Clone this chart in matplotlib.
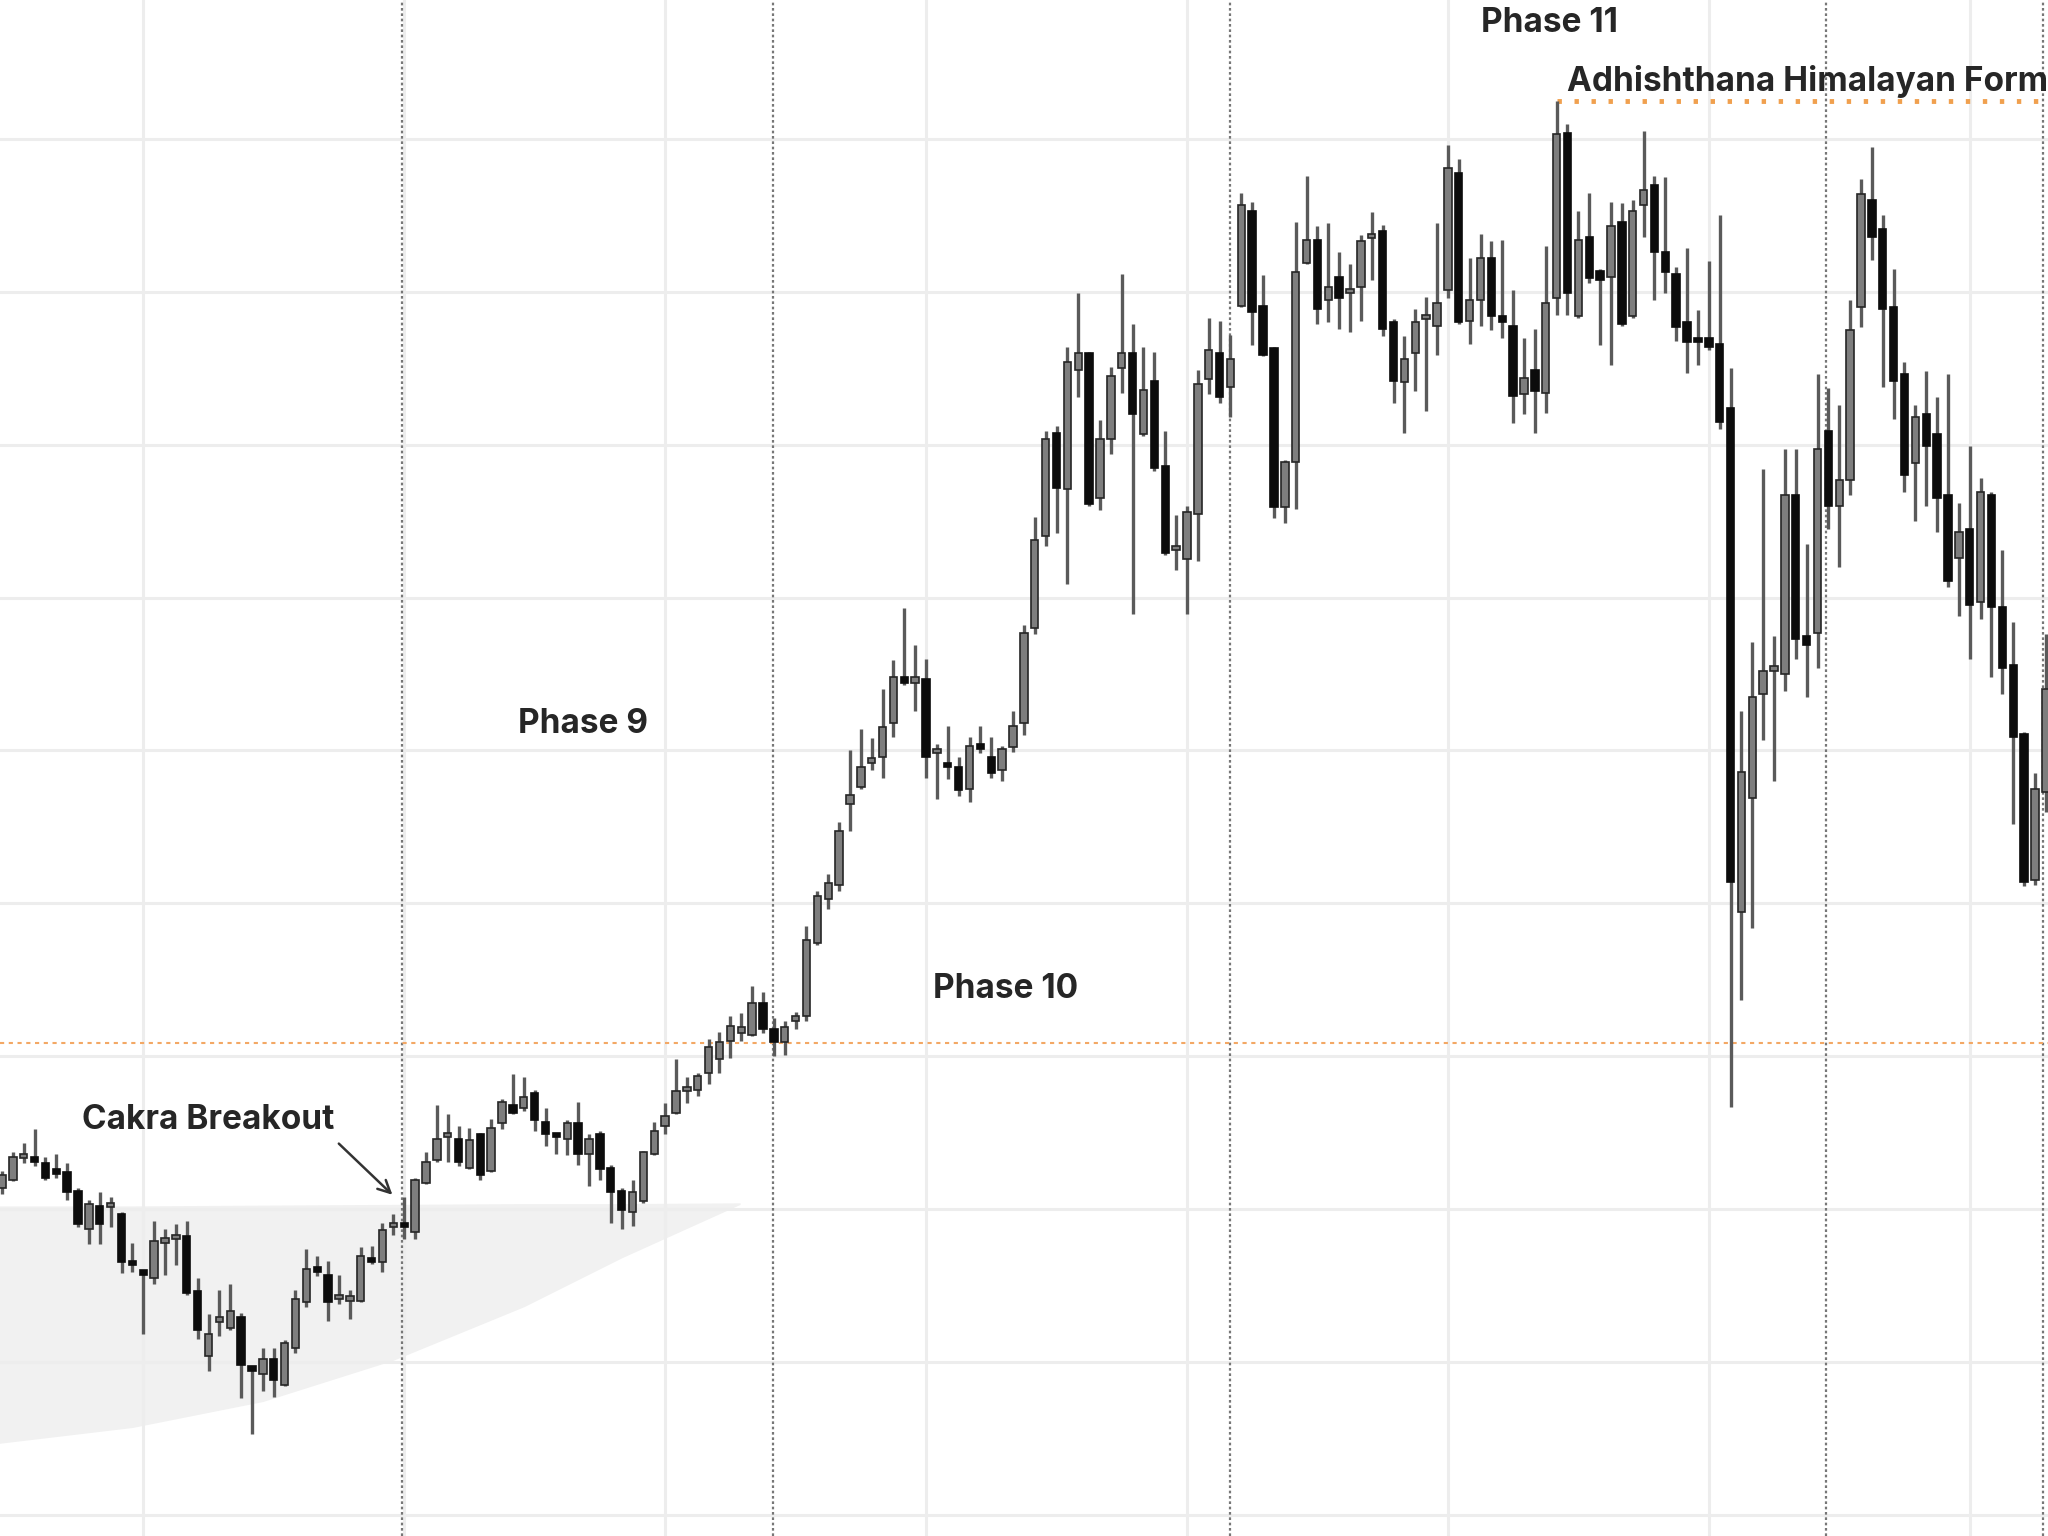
import numpy as np
import matplotlib
matplotlib.use("Agg")
import matplotlib.pyplot as plt

# OHLC per bar (price units; chart has no visible axis labels)
opens = [121.4, 121.9, 123.3, 123.2, 123.0, 122.5, 122.4, 121.2, 118.7, 120.2,
         120.1, 119.7, 116.6, 115.8, 115.5, 117.8, 118.0, 118.2, 114.6, 110.4,
         112.6, 112.2, 112.9, 109.5, 109.2, 110.2, 108.5, 110.9, 113.9, 116.0,
         115.7, 114.1, 114.0, 114.0, 116.8, 116.5, 118.8, 119.0, 118.5, 121.7,
         123.2, 124.7, 124.6, 122.7, 124.9, 122.5, 125.6, 126.8, 126.6, 127.6,
         125.7, 124.8, 124.6, 125.6, 123.6, 124.9, 122.7, 121.2, 119.8, 120.5,
         123.6, 125.4, 126.3, 127.7, 127.8, 128.9, 129.8, 131.0, 131.5, 131.4,
         133.5, 131.8, 130.9, 132.3, 132.6, 137.4, 140.3, 141.2, 146.5, 147.6,
         149.2, 149.6, 151.8, 154.8, 154.4, 154.7, 149.8, 149.0, 148.9, 147.5,
         150.2, 149.6, 148.7, 150.2, 151.8, 158.0, 164.0, 170.8, 167.1, 174.9,
         176.0, 166.5, 170.4, 175.0, 176.0, 170.7, 174.2, 168.6, 163.1, 162.5,
         165.5, 174.3, 176.0, 173.8, 179.1, 185.3, 179.1, 176.3, 165.9, 168.9,
         181.9, 183.4, 179.5, 181.0, 179.9, 180.3, 183.5, 184.0, 178.0, 174.1,
         176.0, 178.2, 177.8, 180.1, 187.8, 178.1, 179.5, 182.2, 178.4, 177.8,
         173.3, 174.9, 173.4, 179.6, 190.4, 178.4, 183.6, 181.4, 181.0, 184.6,
         178.4, 185.7, 187.0, 182.6, 181.2, 178.0, 176.8, 177.0, 176.6, 172.4,
         139.4, 146.9, 153.7, 155.2, 155.0, 166.7, 157.5, 157.7, 170.9, 166.0,
         167.7, 179.0, 186.0, 184.1, 179.0, 174.6, 168.8, 172.0, 170.7, 166.7,
         162.6, 164.5, 159.7, 166.7, 159.4, 155.6, 151.1, 141.5, 147.3]
highs = [122.5, 123.7, 124.3, 125.2, 123.4, 123.6, 123.0, 121.4, 120.6, 121.1,
         120.8, 119.8, 117.8, 115.9, 119.2, 118.7, 119.0, 119.2, 115.5, 113.1,
         114.7, 115.1, 113.2, 109.6, 110.9, 110.9, 111.4, 114.7, 117.4, 116.9,
         116.6, 115.7, 114.7, 117.5, 117.6, 119.1, 119.7, 120.8, 122.0, 123.7,
         126.8, 126.2, 125.4, 125.3, 125.0, 125.9, 127.2, 128.8, 128.6, 127.8,
         126.6, 125.0, 125.8, 127.0, 124.9, 125.1, 122.9, 121.4, 121.9, 123.8,
         125.7, 126.9, 129.8, 128.6, 128.9, 131.1, 131.6, 132.6, 132.8, 134.6,
         134.2, 132.5, 132.3, 132.9, 138.5, 140.8, 141.9, 145.3, 150.0, 151.4,
         150.8, 154.0, 155.9, 159.3, 156.9, 156.0, 150.4, 151.6, 149.6, 150.9,
         151.6, 150.9, 150.3, 152.6, 158.2, 165.3, 170.9, 171.2, 176.4, 179.9,
         176.1, 171.6, 175.1, 181.2, 177.9, 176.4, 176.1, 170.9, 165.4, 166.0,
         174.9, 178.3, 178.1, 177.2, 186.5, 185.9, 181.1, 176.4, 169.0, 184.6,
         187.6, 184.3, 184.5, 182.6, 181.8, 183.7, 185.2, 184.4, 178.2, 177.1,
         178.9, 179.7, 184.5, 189.6, 188.7, 182.2, 183.8, 183.3, 183.4, 180.1,
         177.0, 177.6, 183.0, 192.5, 191.0, 185.3, 186.5, 181.5, 185.9, 185.8,
         186.0, 190.5, 187.6, 187.5, 181.6, 182.9, 178.8, 182.0, 185.0, 175.0,
         152.6, 157.1, 168.4, 157.5, 169.7, 169.7, 163.5, 174.6, 173.7, 172.6,
         179.5, 187.4, 189.5, 185.0, 181.5, 175.4, 172.6, 174.8, 173.1, 174.6,
         166.2, 169.9, 167.8, 166.9, 163.1, 158.4, 151.2, 148.5, 157.6]
lows = [121.0, 121.8, 123.0, 122.8, 121.9, 122.0, 120.6, 118.8, 117.7, 117.7,
        118.8, 115.8, 115.9, 111.8, 115.1, 115.7, 116.3, 114.4, 111.5, 109.4,
        111.7, 112.1, 107.6, 105.3, 108.1, 107.7, 108.4, 110.6, 113.6, 115.6,
        112.7, 113.8, 112.8, 113.9, 116.4, 115.9, 118.3, 118.0, 118.0, 121.6,
        123.1, 123.1, 122.8, 122.6, 121.9, 122.4, 125.2, 126.2, 126.4, 125.1,
        124.1, 123.6, 123.5, 122.9, 121.5, 121.9, 119.1, 118.7, 118.9, 120.4,
        123.5, 124.9, 126.2, 126.9, 127.4, 128.2, 128.9, 129.9, 131.0, 131.3,
        131.5, 130.0, 130.1, 131.8, 132.3, 137.3, 139.6, 140.8, 144.7, 147.5,
        148.7, 148.2, 150.9, 154.3, 152.6, 148.2, 146.8, 148.1, 147.0, 146.6,
        149.8, 148.2, 148.0, 149.9, 151.0, 157.6, 163.4, 164.2, 160.9, 173.1,
        166.0, 165.7, 169.4, 173.4, 158.9, 170.6, 168.3, 162.8, 161.8, 158.9,
        162.4, 173.3, 172.7, 171.8, 179.0, 176.5, 175.8, 165.2, 164.9, 165.8,
        181.8, 177.9, 178.0, 177.6, 177.4, 178.1, 180.8, 177.1, 172.7, 170.8,
        173.5, 172.2, 175.9, 179.6, 177.9, 176.6, 177.8, 177.5, 177.0, 171.4,
        172.0, 170.8, 172.1, 178.5, 178.5, 178.3, 180.6, 176.5, 175.2, 177.8,
        178.3, 183.6, 179.5, 179.9, 176.8, 174.7, 175.2, 176.2, 171.0, 126.7,
        133.7, 138.4, 150.7, 148.0, 153.9, 156.0, 153.5, 155.4, 164.5, 162.0,
        166.7, 177.7, 182.1, 173.8, 171.7, 166.9, 165.0, 166.0, 164.3, 160.7,
        158.8, 156.0, 158.6, 154.8, 153.7, 145.2, 141.1, 141.2, 146.0]
closes = [122.2, 123.4, 123.4, 123.1, 122.0, 122.3, 121.1, 119.0, 120.3, 119.0,
          120.2, 116.5, 116.3, 115.7, 117.9, 117.9, 118.1, 114.5, 112.1, 111.8,
          112.7, 113.3, 109.8, 109.4, 110.2, 108.8, 111.2, 114.1, 116.1, 115.9,
          113.9, 114.1, 114.2, 116.9, 116.5, 118.6, 118.9, 118.8, 121.9, 123.1,
          124.6, 124.8, 123.1, 124.5, 122.2, 125.3, 127.0, 126.3, 127.3, 125.8,
          124.9, 124.7, 125.6, 123.6, 124.6, 122.6, 121.1, 119.9, 121.1, 123.7,
          125.1, 126.1, 127.7, 127.9, 128.7, 130.6, 130.9, 132.0, 131.9, 133.5,
          131.8, 130.9, 131.9, 132.6, 137.6, 140.5, 141.3, 144.7, 147.1, 148.9,
          149.3, 151.5, 154.8, 154.4, 154.8, 149.6, 149.9, 148.9, 147.4, 150.3,
          150.1, 148.5, 150.1, 151.6, 157.7, 163.8, 170.4, 167.2, 175.4, 176.0,
          166.1, 170.4, 174.5, 176.0, 172.0, 173.6, 168.5, 162.9, 163.3, 165.6,
          174.0, 176.2, 173.1, 175.6, 185.7, 178.7, 175.9, 165.9, 168.9, 181.3,
          183.4, 178.9, 180.3, 179.6, 180.0, 183.3, 183.7, 177.6, 174.2, 175.6,
          178.0, 178.3, 179.3, 188.1, 178.0, 179.5, 182.2, 178.4, 178.0, 173.2,
          174.4, 173.5, 179.3, 190.3, 179.9, 183.4, 180.9, 180.8, 184.3, 177.9,
          185.3, 186.7, 182.6, 181.3, 177.7, 176.7, 176.7, 176.4, 171.5, 141.4,
          148.6, 153.5, 155.2, 155.3, 166.7, 157.3, 156.9, 169.7, 166.0, 167.7,
          177.5, 186.4, 183.6, 178.9, 174.2, 168.0, 171.8, 169.9, 166.5, 161.1,
          164.3, 159.5, 166.9, 159.4, 155.4, 150.9, 141.4, 147.5, 154.0]

# phase separators (bar index) and reference levels
phase_lines = [36.8, 70.9, 113.0, 167.8, 187.7]
breakout_level = 130.85
top_bar = 143
top_level = 192.5

# shaded base zone under the early bars
zone_x = [-1.0, 12.0, 24.0, 36.0, 48.0, 57.0, 67.9]
zone_low = [104.6, 105.7, 107.4, 110.1, 113.6, 116.8, 120.3]
zone_high = [120.2, 120.2, 120.25, 120.3, 120.35, 120.35, 120.4]

fig = plt.figure(figsize=(20.48, 15.36), dpi=100)
ax = fig.add_axes([0, 0, 1, 1])
ax.set_xlim(-0.18, 188.2)
ax.set_ylim(98.6, 199.1)

ax.set_xticks(np.arange(13, 189, 24))
ax.set_yticks(np.arange(100, 200, 10))
ax.tick_params(length=0, labelleft=False, labelbottom=False)
for s in ax.spines.values():
    s.set_visible(False)
ax.grid(True, color="#ededed", linewidth=2.2, zorder=0)
ax.set_axisbelow(True)

ax.fill_between(zone_x, zone_low, zone_high, color="#f1f1f1", linewidth=0, zorder=0.5)

for xv in phase_lines:
    ax.axvline(xv, color="#777777", linewidth=1.6, linestyle=(0, (1.2, 1.2)), zorder=1.5)

ax.axhline(breakout_level, color="#f3a865", linewidth=1.5, linestyle=(0, (2, 2.2)), zorder=1.6)
ax.hlines(top_level, top_bar, 200, color="#f0a04e", linewidth=3.5,
          linestyle=(0, (0.9, 2.6)), zorder=1.6)

o = np.array(opens)
h = np.array(highs)
l = np.array(lows)
c = np.array(closes)
idx = np.arange(len(o))
up = c >= o

ax.vlines(idx, l, h, color="#5a5a5a", linewidth=2.4, zorder=2)
body_lo = np.minimum(o, c)
body_h = np.maximum(np.abs(c - o), 0.3)
ax.bar(idx[up], body_h[up], bottom=body_lo[up], width=0.68,
       color="#7e7e7e", edgecolor="#262626", linewidth=1.2, zorder=3)
ax.bar(idx[~up], body_h[~up], bottom=body_lo[~up], width=0.68,
       color="#0c0c0c", edgecolor="#0c0c0c", linewidth=1.2, zorder=3)

font = dict(family=["Inter", "DejaVu Sans"], fontweight="bold", fontsize=24, color="#262626")
ax.text(53.4, 151.7, "Phase 9", ha="center", va="center", **font)
ax.text(92.3, 134.4, "Phase 10", ha="center", va="center", **font)
ax.text(142.3, 197.6, "Phase 11", ha="center", va="center", **font)
ax.text(144.0, 193.8, "Adhishthana Himalayan Formation", ha="left", va="center", **font)
ax.text(19.0, 125.8, "Cakra Breakout", ha="center", va="center", **font)
ax.annotate("", xy=(36.1, 120.8), xytext=(30.8, 124.4),
            arrowprops=dict(arrowstyle="->", color="#333333", lw=1.8,
                            mutation_scale=22))

fig.savefig("out.png", dpi=100)
